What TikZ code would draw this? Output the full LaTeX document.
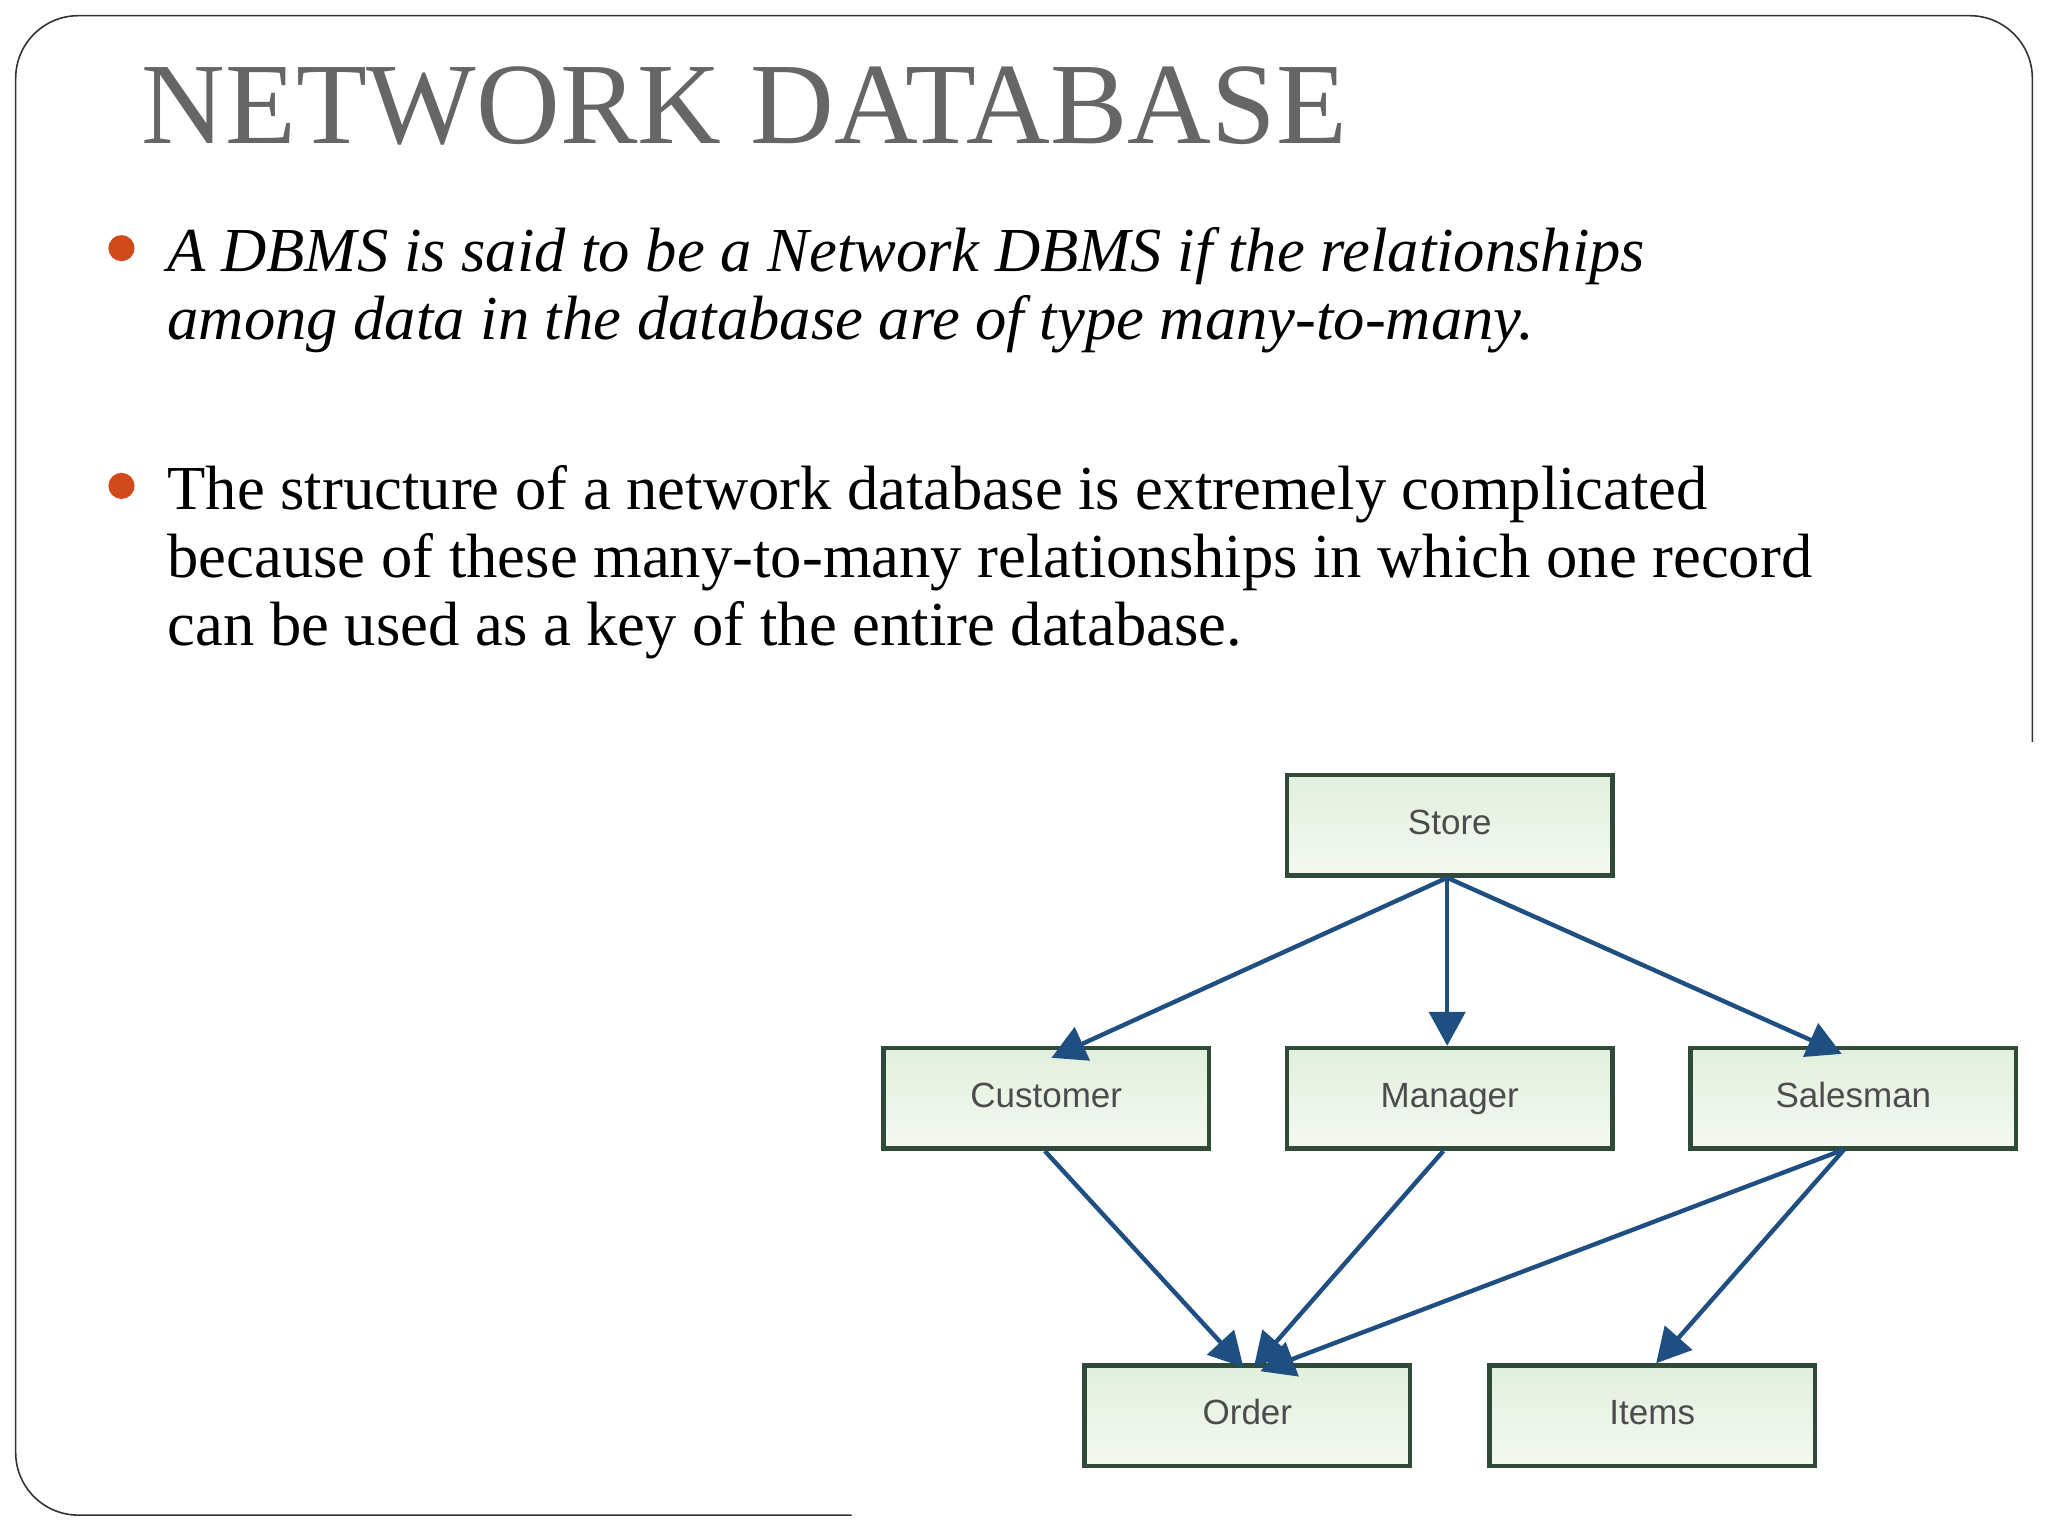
\documentclass[tikz,border=0pt]{standalone}
\usepackage{fontspec}
\setmainfont{Liberation Serif}
\newfontfamily\boxfont{Liberation Sans}
\usetikzlibrary{arrows.meta}
\definecolor{bul}{HTML}{D24A1C}
\definecolor{ttl}{HTML}{666666}
\definecolor{arr}{HTML}{1F4E80}
\definecolor{bord}{HTML}{2F4A38}
\definecolor{boxf}{HTML}{E2EFDD}
\begin{document}
\begin{tikzpicture}[x=0.653pt,y=-0.653pt,
  box/.style={draw=bord,line width=2.3pt,top color=boxf,bottom color=boxf!40!white,minimum width=162.6pt,minimum height=50.3pt,inner sep=0pt,text height=12pt,text depth=3pt,font=\boxfont\fontsize{17.5}{17.5}\selectfont,text=black!70},
  ar/.style={draw=arr,line width=2.2pt,-{Triangle[length=17pt,width=18pt]}},
  txt/.style={anchor=base west,inner sep=0pt,font=\fontsize{31.3}{31.3}\selectfont}]
\useasboundingbox (0,0) rectangle (1568,1176);
\fill[white] (0,0) rectangle (1568,1176);
\draw[line width=0.8pt,black!80] (652,1160) -- (60,1160) arc[start angle=90,end angle=180,radius=48] -- (12,60) arc[start angle=180,end angle=270,radius=48] -- (1508,12) arc[start angle=270,end angle=360,radius=48] -- (1556,568);
\node[anchor=base west,inner sep=0pt,text=ttl,font=\fontsize{58}{58}\selectfont] (title) at (108,110) {NETWORK DATABASE};
\fill[bul] (93,190) circle (10);
\fill[bul] (93,372) circle (10);
\node[txt,font=\fontsize{31.3}{31.3}\selectfont\itshape] (l1) at (128,208) {A DBMS is said to be a Network DBMS if the relationships};
\node[txt,font=\fontsize{31.3}{31.3}\selectfont\itshape] (l2) at (128,260) {among data in the database are of type many-to-many.};
\node[txt] (l3) at (128,390) {The structure of a network database is extremely complicated};
\node[txt] (l4) at (128,442) {because of these many-to-many relationships in which one record};
\node[txt] (l5) at (128,494) {can be used as a key of the entire database.};
\node[box] (store) at (1110,632) {Store};
\node[box] (cust) at (801,841) {Customer};
\node[box] (man) at (1110,841) {Manager};
\node[box] (sales) at (1419,841) {Salesman};
\node[box] (order) at (955,1084) {Order};
\node[box] (items) at (1265,1084) {Items};
\coordinate (sb) at (1108,672);
\draw[ar] (sb) -- ([yshift=-6pt]cust.north -| 805,0);
\draw[ar] (sb) -- (man.north -| 1108,0);
\draw[ar] (sb) -- ([yshift=-4pt]sales.north -| 1410,0);
\draw[ar] (cust.south -| 800,0) -- ([yshift=-2pt]order.north -| 952,0);
\draw[ar] (man.south -| 1105,0) -- ([yshift=-2pt]order.north -| 960,0);
\coordinate (slb) at (1412,880);
\draw[ar] (slb) -- ([yshift=-4pt]order.north -| 965,0);
\draw[ar] (slb) -- (items.north -| 1268,0);
\end{tikzpicture}
\end{document}
